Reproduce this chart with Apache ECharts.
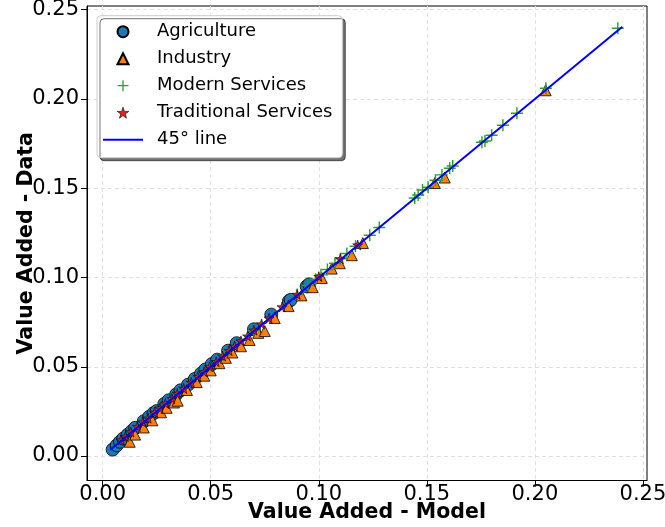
<!DOCTYPE html>
<html>
<head>
<meta charset="utf-8">
<script src="https://cdn.jsdelivr.net/npm/echarts@6/dist/echarts.min.js"></script>
<style>html,body{margin:0;padding:0;background:#fff}#c{width:665px;height:527px}</style>
</head>
<body>
<div id="c"></div>
<script>
// ---- data: [model, data] pairs ----
const agriculture = [
  [0.0046,0.0036],[0.0065,0.0060],[0.0080,0.0080],[0.0095,0.0098],[0.0116,0.0120],
  [0.0135,0.0140],[0.0150,0.0158],[0.0190,0.0195],[0.0215,0.0220],[0.0235,0.0240],
  [0.0250,0.0252],[0.0285,0.0292],[0.0305,0.0312],[0.0340,0.0345],[0.0360,0.0368],
  [0.0395,0.0400],[0.0426,0.0432],[0.0455,0.0462],[0.0475,0.0485],[0.0505,0.0515],
  [0.0530,0.0540],[0.0580,0.0590],[0.0620,0.0632],[0.0700,0.0710],[0.0780,0.0792],
  [0.0862,0.0868],[0.0870,0.0875],[0.0944,0.0950],[0.0955,0.0962]
];
const industry = [
  [0.0125,0.0080],[0.0150,0.0120],[0.0190,0.0160],[0.0230,0.0200],[0.0270,0.0245],
  [0.0296,0.0270],[0.0330,0.0300],[0.0347,0.0310],[0.0390,0.0370],[0.0435,0.0414],
  [0.0470,0.0450],[0.0500,0.0480],[0.0540,0.0520],[0.0570,0.0550],[0.0600,0.0580],
  [0.0640,0.0615],[0.0680,0.0650],[0.0720,0.0690],[0.0750,0.0700],[0.0796,0.0773],
  [0.0860,0.0840],[0.0920,0.0900],[0.0972,0.0946],[0.1014,0.0997],[0.1060,0.1050],
  [0.1097,0.1080],[0.1153,0.1125],[0.1204,0.1193],[0.1537,0.1529],[0.1583,0.1560],
  [0.2050,0.2049]
];
const modernServices = [
  [0.0560,0.0565],[0.0700,0.0705],[0.0900,0.0905],[0.0950,0.0955],[0.0985,0.0990],
  [0.1010,0.1015],[0.1040,0.1045],[0.1075,0.1080],[0.1100,0.1105],[0.1130,0.1135],
  [0.1170,0.1175],[0.1236,0.1237],[0.1280,0.1280],[0.1444,0.1445],[0.1460,0.1462],
  [0.1480,0.1490],[0.1506,0.1506],[0.1540,0.1545],[0.1570,0.1575],[0.1606,0.1612],
  [0.1620,0.1625],[0.1755,0.1758],[0.1769,0.1765],[0.1800,0.1797],[0.1852,0.1853],
  [0.1917,0.1920],[0.2051,0.2060],[0.2384,0.2396]
];
const traditionalServices = [
  [0.0085,0.0090],[0.0105,0.0110],[0.0130,0.0135],[0.0160,0.0165],[0.0185,0.0190],
  [0.0210,0.0212],[0.0240,0.0245],[0.0265,0.0268],[0.0290,0.0295],[0.0320,0.0322],
  [0.0345,0.0350],[0.0375,0.0378],[0.0410,0.0412],[0.0440,0.0445],[0.0470,0.0472],
  [0.0495,0.0500],[0.0525,0.0528],[0.0555,0.0560],[0.0585,0.0590],[0.0610,0.0615],
  [0.0640,0.0645],[0.0670,0.0672],[0.0700,0.0705],[0.0735,0.0740],[0.0770,0.0772],
  [0.0830,0.0835],[0.0900,0.0905],[0.1000,0.1005],[0.1100,0.1105],[0.1180,0.1182]
];
const line45 = [[0.0035,0.0035],[0.2405,0.2405]];
const xTicks = [0, 0.05, 0.10, 0.15, 0.20, 0.25];
const yTicks = [0, 0.05, 0.10, 0.15, 0.20, 0.25];

const FONT = 'DejaVu Sans';
const TRI = 'path://M5,0L10,10L0,10Z';
const PLUS = 'path://M4.4,0H5.6V4.4H10V5.6H5.6V10H4.4V5.6H0V4.4H4.4Z';
const STAR = 'path://M50,0L61.2,34.5L97.6,34.5L68.2,55.9L79.4,90.5L50,69.1L20.6,90.5L31.8,55.9L2.4,34.5L38.8,34.5Z';
const LINEICON = 'path://M0,0H40V2H0Z';

const chart = echarts.init(document.getElementById('c'), null, {renderer: 'canvas'});

function axisCommon(ticks, name, nameGap, min, max, labelMargin) {
  return {
    type: 'value', min: min, max: max,
    name: name, nameLocation: 'middle', nameGap: nameGap, nameMoveOverlap: false,
    nameTextStyle: {fontFamily: FONT, fontSize: 20.5, fontWeight: 'bold', color: '#000'},
    axisLine: {show: true, onZero: false, lineStyle: {color: '#000', width: 1}},
    axisTick: {show: true, length: 6, customValues: ticks, lineStyle: {color: '#000', width: 1}},
    axisLabel: {customValues: ticks, fontFamily: FONT, fontSize: 21, color: '#000', margin: labelMargin,
      formatter: v => v.toFixed(2)},
    splitLine: {show: true, lineStyle: {color: '#e0e0e0', width: 1, type: [4, 3]}}
  };
}

chart.setOption({
  animation: false,
  backgroundColor: '#fff',
  grid: {left: 87, top: 6, width: 560, height: 474.5, show: true, borderColor: '#000', borderWidth: 1,
    containLabel: false, outerBoundsMode: 'none'},
  xAxis: axisCommon(xTicks, 'Value Added - Model', 22, -0.00727, 0.2519, 4),
  yAxis: axisCommon(yTicks, 'Value Added - Data', 50, -0.0137, 0.2521, 8),
  legend: {
    orient: 'vertical', left: 97, top: 15.7,
    padding: [7, 10, 9, 6],
    itemWidth: 40, itemHeight: 11, itemGap: 9,
    backgroundColor: '#fff', borderColor: '#cccccc', borderWidth: 1, borderRadius: 4,
    shadowColor: 'rgba(0,0,0,0.55)', shadowOffsetX: 3, shadowOffsetY: 3, shadowBlur: 0,
    textStyle: {fontFamily: FONT, fontSize: 18, color: '#000', padding: [0, 0, 0, 9], lineHeight: 18},
    data: [
      {name: 'Agriculture', icon: 'circle'},
      {name: 'Industry', icon: TRI},
      {name: 'Modern Services', icon: PLUS},
      {name: 'Traditional Services', icon: STAR, itemStyle: {borderWidth: 0.6}},
      {name: '45° line', icon: LINEICON, itemStyle: {color: '#0000ff', borderWidth: 0}}
    ]
  },
  series: [
    {name: 'Agriculture', type: 'scatter', data: agriculture, symbol: 'circle', symbolSize: 13,
      itemStyle: {color: '#1f77b4', borderColor: '#000', borderWidth: 0.8, opacity: 1}, z: 2},
    {name: 'Industry', type: 'scatter', data: industry, symbol: TRI, symbolSize: 11,
      itemStyle: {color: '#ff7f0e', borderColor: '#000', borderWidth: 0.8, opacity: 1}, z: 2},
    {name: 'Modern Services', type: 'scatter', data: modernServices, symbol: PLUS, symbolSize: 12,
      itemStyle: {color: '#2ca02c', opacity: 1}, z: 2},
    {name: 'Traditional Services', type: 'scatter', data: traditionalServices, symbol: STAR, symbolSize: 10,
      itemStyle: {color: '#d62728', borderColor: '#000', borderWidth: 0.6, opacity: 1}, z: 2},
    {name: '45° line', type: 'line', data: line45, symbol: 'none', showSymbol: false,
      lineStyle: {color: '#0000ff', width: 2}, itemStyle: {color: '#0000ff'}, z: 3}
  ]
});
</script>
</body>
</html>
